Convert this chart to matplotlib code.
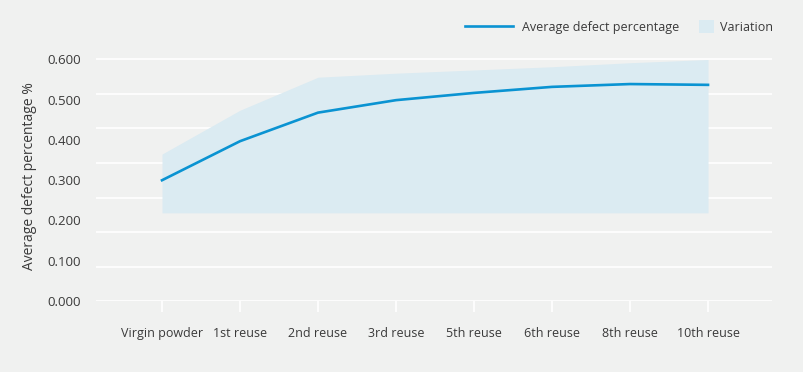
import matplotlib
matplotlib.use("Agg")
import matplotlib.pyplot as plt
from matplotlib.lines import Line2D
from matplotlib.patches import Patch
import numpy as np

categories = ["Virgin powder", "1st reuse", "2nd reuse", "3rd reuse",
              "5th reuse", "6th reuse", "8th reuse", "10th reuse"]
avg_defect = [0.300, 0.397, 0.468, 0.499, 0.517, 0.532, 0.539, 0.537]
var_upper = [0.365, 0.474, 0.556, 0.566, 0.574, 0.582, 0.592, 0.600]
var_lower = [0.219, 0.219, 0.219, 0.219, 0.219, 0.219, 0.219, 0.219]
ytick_vals = [0.0, 0.1, 0.2, 0.3, 0.4, 0.5, 0.6]

plt.rcParams['font.family'] = ['Open Sans', 'DejaVu Sans']
bg = "#f0f1f0"
txt = "#3a3a3a"
line_c = "#0a93d2"
band_c = "#dbebf2"
fs = 9

fig = plt.figure(figsize=(8.04, 3.72), dpi=100, facecolor=bg)
ax = fig.add_axes([96/804, 1 - 301/372, (772-96)/804, 0.62*402.5/372])
ax.set_facecolor(bg)

x = np.arange(len(categories))
ax.fill_between(x, var_lower, var_upper, color=band_c, lw=0, zorder=2)
for g in np.linspace(0, 0.6, 8):
    ax.axhline(g, color="white", lw=1.2, zorder=1.5)
ax.plot(x, avg_defect, color=line_c, lw=1.9, solid_joinstyle="round", zorder=3)

ax.set_xlim(-0.846, 7.82)
ax.set_ylim(0, 0.62)
ax.set_xticks(x)
ax.set_xticklabels(categories, fontsize=fs, color=txt)
ax.set_yticks(ytick_vals)
ax.set_yticklabels([f"{v:.3f}" for v in ytick_vals], fontsize=fs + 0.5, color=txt)
ax.tick_params(axis="x", length=8, width=1.2, color="white", pad=11)
ax.tick_params(axis="y", length=0, pad=11)
for s in ax.spines.values():
    s.set_visible(False)
ax.set_ylabel("Average defect percentage %", fontsize=fs + 1, color=txt, labelpad=7)

ly = 1 - 27/372
leg1 = fig.legend(handles=[Line2D([], [], color=line_c, lw=1.9)],
                  labels=["Average defect percentage"],
                  loc="center right", bbox_to_anchor=(679/804, ly),
                  bbox_transform=fig.transFigure, frameon=False, fontsize=fs,
                  handlelength=3.8, handletextpad=0.7, borderpad=0, borderaxespad=0)
leg2 = fig.legend(handles=[Patch(facecolor=band_c, edgecolor="none")],
                  labels=["Variation"],
                  loc="center right", bbox_to_anchor=(773/804, ly),
                  bbox_transform=fig.transFigure, frameon=False, fontsize=fs,
                  handlelength=1.2, handleheight=1.2, handletextpad=0.5,
                  borderpad=0, borderaxespad=0)
for leg in (leg1, leg2):
    for t in leg.get_texts():
        t.set_color(txt)

fig.savefig("out.png", dpi=100, facecolor=bg)
